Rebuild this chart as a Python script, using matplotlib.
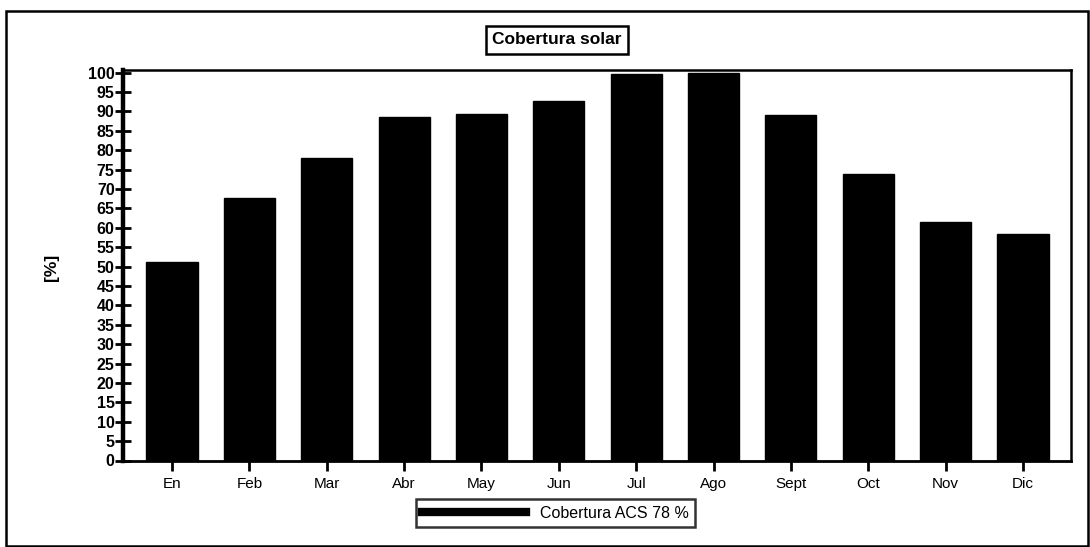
import matplotlib.pyplot as plt
from matplotlib.lines import Line2D
from matplotlib.patches import Rectangle

plt.rcParams['font.family'] = ['Liberation Sans', 'DejaVu Sans']

months = ['En', 'Feb', 'Mar', 'Abr', 'May', 'Jun', 'Jul', 'Ago', 'Sept', 'Oct', 'Nov', 'Dic']
coverage = [51.3, 67.6, 77.9, 88.5, 89.4, 92.8, 99.7, 100.0, 89.1, 73.9, 61.4, 58.3]
yticks = list(range(0, 101, 5))
title = 'Cobertura solar'
legend_label = 'Cobertura ACS 78 %'

fig = plt.figure(figsize=(10.9, 5.47), dpi=100)
ax = fig.add_axes([123 / 1090, 1 - 460.5 / 547, 948 / 1090, 391 / 547])

x = range(len(months))
ax.bar(x, coverage, width=0.66, color='black', edgecolor='black')

ax.set_xlim(-0.633, 11.62)
ax.set_ylim(0, 100.8)
ax.set_xticks(list(x))
ax.set_xticklabels(months, fontsize=11)
ax.set_yticks(yticks)
ax.set_yticklabels([str(v) for v in yticks], fontsize=11.5, fontweight='bold')
ax.tick_params(axis='y', direction='inout', length=12, width=2, pad=0)
ax.tick_params(axis='x', direction='out', length=7, width=2, pad=5)

ax.spines['left'].set_linewidth(3.2)
ax.spines['bottom'].set_linewidth(2)
ax.spines['top'].set_linewidth(1.8)
ax.spines['right'].set_linewidth(1.8)

# y label
fig.text(52 / 1090, 1 - 267 / 547, '[%]', rotation=90, ha='center', va='center',
         fontsize=12.5, fontweight='bold')

# boxed title
fig.text(557 / 1090, 1 - 40 / 547, title, ha='center', va='center',
         fontsize=12.5, fontweight='bold',
         bbox=dict(boxstyle='square,pad=0.35', facecolor='white',
                   edgecolor='black', linewidth=1.8))

# legend at bottom
handle = Line2D([0], [0], color='black', linewidth=6)
leg = fig.legend([handle], [legend_label], loc='center',
                 bbox_to_anchor=(555.5 / 1090, 1 - 513 / 547),
                 fontsize=11.5, handlelength=6.5, handletextpad=0.9,
                 fancybox=False, borderpad=0.4, borderaxespad=0)
leg.get_frame().set_edgecolor('black')
leg.get_frame().set_linewidth(1.8)

# outer frame
fig.patches.append(Rectangle((6 / 1090, 1 / 547), 1082 / 1090, 535 / 547,
                             transform=fig.transFigure, fill=False,
                             edgecolor='black', linewidth=1.8))

fig.savefig('out.png', dpi=100)
